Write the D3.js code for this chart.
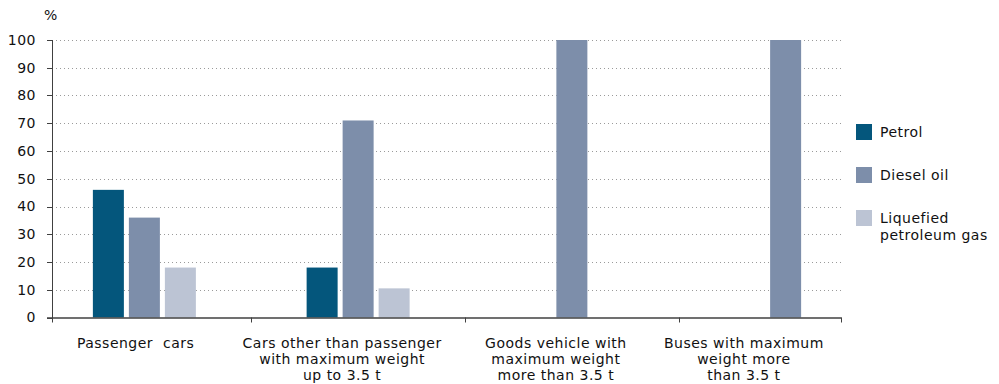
<!DOCTYPE html>
<html>
<head>
<meta charset="utf-8">
<script src="https://cdn.jsdelivr.net/npm/d3@7"></script>
<style>
  html, body { margin: 0; padding: 0; background: #fff; }
  svg { display: block; }
  text { font-family: "DejaVu Sans", sans-serif; fill: #111; letter-spacing: 0.5px; white-space: pre; }
</style>
</head>
<body>
<svg id="chart" width="999" height="384"></svg>
<script>
const categories = [
  ["Passenger  cars"],
  ["Cars other than passenger", "with maximum weight", "up to 3.5 t"],
  ["Goods vehicle with", "maximum weight", "more than 3.5 t"],
  ["Buses with maximum", "weight more", "than 3.5 t"]
];
const seriesNames = ["Petrol", "Diesel oil", "Liquefied petroleum gas"];
const legendLabels = [["Petrol"], ["Diesel oil"], ["Liquefied", "petroleum gas"]];
const petrol = [46, 18, 0, 0];
const diesel = [36, 71, 100, 100];
const lpg = [18, 10.5, 0, 0];
const yTicks = [0, 10, 20, 30, 40, 50, 60, 70, 80, 90, 100];
const colors = ["#04567c", "#7d8eaa", "#bcc4d4"];

const svg = d3.select("#chart");
const catIdx = categories.map((c, i) => i);
const values = [petrol, diesel, lpg];
const FS = "14px";

const axisLeft = 52, axisRight = 841;
const y = d3.scaleLinear().domain([0, 100]).range([317.5, 40]);
const x = d3.scaleBand().domain(catIdx).range([37.5, 892.5]).padding(0);
const xs = d3.scaleBand().domain(d3.range(3)).range([-51.5, 51.5]).paddingInner(5 / 36);

// gridlines
svg.append("g").selectAll("line").data(yTicks.filter(d => d > 0)).join("line")
  .attr("x1", axisLeft).attr("x2", axisRight)
  .attr("y1", d => Math.round(y(d)) + 0.5).attr("y2", d => Math.round(y(d)) + 0.5)
  .attr("stroke", "#9a9a9a").attr("stroke-width", 1).attr("stroke-dasharray", "1,3");

// bars
const bars = [];
values.forEach((arr, s) => arr.forEach((v, c) => { if (v > 0) bars.push({ s, c, v }); }));
svg.append("g").selectAll("rect").data(bars).join("rect")
  .attr("x", d => x(d.c) + x.bandwidth() / 2 + xs(d.s))
  .attr("width", xs.bandwidth())
  .attr("y", d => y(d.v))
  .attr("height", d => y(0) - y(d.v))
  .attr("fill", d => colors[d.s]);

// y axis
const gy = svg.append("g");
gy.append("line").attr("x1", axisLeft + 0.5).attr("x2", axisLeft + 0.5)
  .attr("y1", y(100)).attr("y2", y(0) + 4).attr("stroke", "#404040");
gy.selectAll("line.t").data(yTicks).join("line").attr("class", "t")
  .attr("x1", axisLeft - 5).attr("x2", axisLeft)
  .attr("y1", d => Math.round(y(d)) + 0.5).attr("y2", d => Math.round(y(d)) + 0.5)
  .attr("stroke", "#404040");
gy.selectAll("text").data(yTicks).join("text")
  .attr("x", 36).attr("y", d => y(d)).attr("dy", "0.35em")
  .attr("text-anchor", "end").style("font-size", FS).text(d => d);
svg.append("text").attr("x", 51).attr("y", 15).attr("dy", "0.35em")
  .attr("text-anchor", "middle").style("font-size", FS).text("%");

// x axis
const gx = svg.append("g");
gx.append("line").attr("x1", axisLeft - 5).attr("x2", axisRight + 0.5)
  .attr("y1", y(0) + 0.5).attr("y2", y(0) + 0.5).attr("stroke", "#404040").attr("stroke-width", 1.5);
const bounds = [axisLeft, ...catIdx.slice(1).map(c => x(c)), axisRight];
gx.selectAll("line.t").data(bounds).join("line").attr("class", "t")
  .attr("x1", d => Math.round(d) + 0.5).attr("x2", d => Math.round(d) + 0.5)
  .attr("y1", y(0)).attr("y2", y(0) + 5).attr("stroke", "#404040");
const labelG = gx.selectAll("text").data(categories).join("text")
  .attr("text-anchor", "middle").style("font-size", FS)
  .attr("transform", (d, i) => `translate(${(bounds[i] + bounds[i + 1]) / 2 - 16},343)`);
labelG.selectAll("tspan").data(d => d).join("tspan")
  .attr("x", 0).attr("dy", (d, i) => i === 0 ? "0.35em" : "16px").text(d => d);

// legend
const lg = svg.append("g");
const ly = d3.scalePoint().domain(d3.range(3)).range([132, 218]);
lg.selectAll("rect").data(d3.range(3)).join("rect")
  .attr("x", 856).attr("y", d => ly(d) - 8).attr("width", 16).attr("height", 16)
  .attr("fill", d => colors[d]);
const lt = lg.selectAll("text").data(legendLabels).join("text")
  .attr("x", 880).attr("y", (d, i) => ly(i)).style("font-size", FS);
lt.selectAll("tspan").data(d => d).join("tspan")
  .attr("x", 880).attr("dy", (d, i) => i === 0 ? "0.35em" : "17px").text(d => d);
</script>
</body>
</html>
